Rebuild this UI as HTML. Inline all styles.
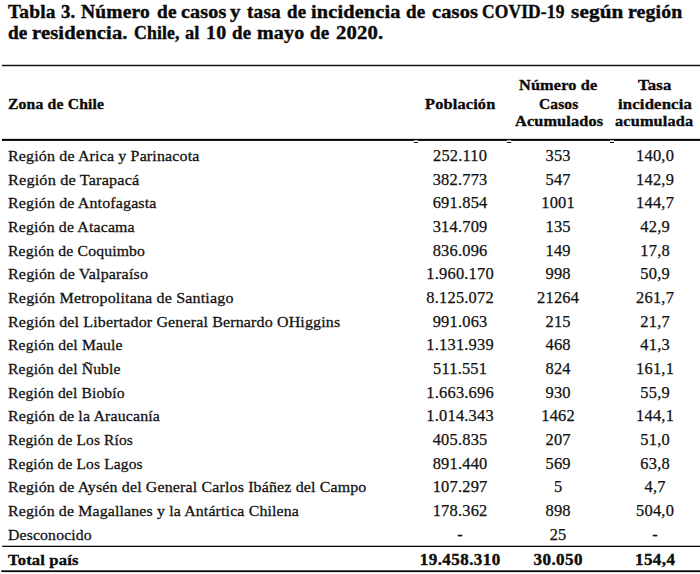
<!DOCTYPE html>
<html><head><meta charset="utf-8"><title>Tabla 3</title>
<style>
html,body{margin:0;padding:0;background:#fff;}
body{width:700px;height:574px;position:relative;overflow:hidden;font-family:"Liberation Serif",serif;color:#111;}
.t{position:absolute;white-space:nowrap;line-height:24px;transform-origin:0 0;letter-spacing:0.15px;}
.la{font-size:15.4px;-webkit-text-stroke:0.27px #111;}
.bo{font-weight:bold;font-size:15.6px;-webkit-text-stroke:0.35px #0c0c0c;color:#0c0c0c;}
.ti{font-weight:bold;font-size:18.7px;-webkit-text-stroke:0.4px #0a0a0a;color:#0a0a0a;}
.hd{font-weight:bold;font-size:15.5px;-webkit-text-stroke:0.35px #0c0c0c;color:#0c0c0c;}
.n{position:absolute;white-space:nowrap;line-height:24px;transform:translateX(-50%) scaleX(1.04);letter-spacing:0.2px;padding-left:0.2px;font-size:15.8px;-webkit-text-stroke:0.25px #111;}
.nb{position:absolute;white-space:nowrap;line-height:24px;transform:translateX(-50%) scaleX(1.085);letter-spacing:0.4px;padding-left:0.4px;font-weight:bold;font-size:15.7px;-webkit-text-stroke:0.35px #0c0c0c;color:#0c0c0c;}
svg{position:absolute;left:0;top:0;}
</style></head><body>
<svg width="700" height="574" viewBox="0 0 700 574">
<rect x="1.9" y="64.75" width="699" height="1.5" fill="#111"/>
<rect x="1.9" y="138.85" width="699" height="2.1" fill="#0a0a0a"/>
<rect x="2.2" y="545.7" width="699" height="1.3" fill="#0a0a0a"/>
<rect x="1.3" y="570.3" width="699" height="1.8" fill="#0a0a0a"/>
<rect x="413.8" y="140.2" width="4.2" height="0.9" fill="#ccc"/>
<rect x="507" y="140.2" width="4.2" height="0.9" fill="#ccc"/>
<rect x="609.8" y="140.2" width="4.2" height="0.9" fill="#ccc"/>
<rect x="413.8" y="142" width="4.2" height="1" fill="#111"/>
<rect x="507" y="142" width="4.2" height="1" fill="#111"/>
<rect x="609.8" y="142" width="4.2" height="1" fill="#111"/>
</svg>

<div class="t ti" style="left:8.30px;top:0.40px;transform:scaleX(1.0391)">Tabla</div>
<div class="t ti" style="left:61.20px;top:0.40px;transform:scaleX(1.0071)">3.</div>
<div class="t ti" style="left:81.10px;top:0.40px;transform:scaleX(1.0439)">Número</div>
<div class="t ti" style="left:156.80px;top:0.40px;transform:scaleX(1.0316)">de</div>
<div class="t ti" style="left:181.00px;top:0.40px;transform:scaleX(1.0762)">casos</div>
<div class="t ti" style="left:229.60px;top:0.40px;transform:scaleX(1.1200)">y</div>
<div class="t ti" style="left:246.50px;top:0.40px;transform:scaleX(1.0333)">tasa</div>
<div class="t ti" style="left:287.40px;top:0.40px;transform:scaleX(1.0105)">de</div>
<div class="t ti" style="left:311.20px;top:0.40px;transform:scaleX(1.0854)">incidencia</div>
<div class="t ti" style="left:405.80px;top:0.40px;transform:scaleX(1.0158)">de</div>
<div class="t ti" style="left:431.50px;top:0.40px;transform:scaleX(1.0929)">casos</div>
<div class="t ti" style="left:481.87px;top:0.40px;transform:scaleX(0.9333)">COVID-19</div>
<div class="t ti" style="left:571.00px;top:0.40px;transform:scaleX(1.1304)">según</div>
<div class="t ti" style="left:628.00px;top:0.40px;transform:scaleX(1.0588)">región</div>
<div class="t ti" style="left:8.30px;top:20.60px;transform:scaleX(1.0263)">de</div>
<div class="t ti" style="left:31.80px;top:20.60px;transform:scaleX(1.1000)">residencia.</div>
<div class="t ti" style="left:133.55px;top:20.60px;transform:scaleX(0.9468)">Chile,</div>
<div class="t ti" style="left:185.20px;top:20.60px;transform:scaleX(0.9867)">al</div>
<div class="t ti" style="left:205.73px;top:20.60px;transform:scaleX(1.0667)">10</div>
<div class="t ti" style="left:232.20px;top:20.60px;transform:scaleX(1.0105)">de</div>
<div class="t ti" style="left:256.80px;top:20.60px;transform:scaleX(1.0727)">mayo</div>
<div class="t ti" style="left:310.30px;top:20.60px;transform:scaleX(1.0158)">de</div>
<div class="t ti" style="left:335.70px;top:20.60px;transform:scaleX(1.1071)">2020.</div>
<div class="t hd" style="left:7.80px;top:92.30px;transform:scaleX(1.0126)">Zona de Chile</div>
<div class="t hd" style="left:425.20px;top:92.30px;transform:scaleX(1.0537)">Población</div>
<div class="t hd" style="left:519.30px;top:72.80px;transform:scaleX(1.0493)">Número de</div>
<div class="t hd" style="left:539.40px;top:92.30px;transform:scaleX(0.9949)">Casos</div>
<div class="t hd" style="left:514.50px;top:108.60px;transform:scaleX(1.0476)">Acumulados</div>
<div class="t hd" style="left:638.30px;top:72.80px;transform:scaleX(1.0774)">Tasa</div>
<div class="t hd" style="left:618.10px;top:92.30px;transform:scaleX(1.0779)">incidencia</div>
<div class="t hd" style="left:615.40px;top:108.60px;transform:scaleX(1.0500)">acumulada</div>
<div class="t la" style="left:8.30px;top:144.00px;transform:scaleX(1.0380)">Región de Arica y Parinacota</div>
<div class="n" style="left:460.3px;top:144.00px">252.110</div>
<div class="n" style="left:558.2px;top:144.00px">353</div>
<div class="n" style="left:655.0px;top:144.00px">140,0</div>
<div class="t la" style="left:8.30px;top:168.00px;transform:scaleX(1.0565)">Región de Tarapacá</div>
<div class="n" style="left:460.3px;top:168.00px">382.773</div>
<div class="n" style="left:558.2px;top:168.00px">547</div>
<div class="n" style="left:655.0px;top:168.00px">142,9</div>
<div class="t la" style="left:8.30px;top:191.00px;transform:scaleX(1.0364)">Región de Antofagasta</div>
<div class="n" style="left:460.3px;top:191.00px">691.854</div>
<div class="n" style="left:558.2px;top:191.00px">1001</div>
<div class="n" style="left:655.0px;top:191.00px">144,7</div>
<div class="t la" style="left:8.30px;top:215.00px;transform:scaleX(1.0301)">Región de Atacama</div>
<div class="n" style="left:460.3px;top:215.00px">314.709</div>
<div class="n" style="left:558.2px;top:215.00px">135</div>
<div class="n" style="left:655.0px;top:215.00px">42,9</div>
<div class="t la" style="left:8.30px;top:239.00px;transform:scaleX(1.0201)">Región de Coquimbo</div>
<div class="n" style="left:460.3px;top:239.00px">836.096</div>
<div class="n" style="left:558.2px;top:239.00px">149</div>
<div class="n" style="left:655.0px;top:239.00px">17,8</div>
<div class="t la" style="left:8.30px;top:262.00px;transform:scaleX(1.0425)">Región de Valparaíso</div>
<div class="n" style="left:460.3px;top:262.00px">1.960.170</div>
<div class="n" style="left:558.2px;top:262.00px">998</div>
<div class="n" style="left:655.0px;top:262.00px">50,9</div>
<div class="t la" style="left:8.30px;top:286.00px;transform:scaleX(1.0426)">Región Metropolitana de Santiago</div>
<div class="n" style="left:460.3px;top:286.00px">8.125.072</div>
<div class="n" style="left:558.2px;top:286.00px">21264</div>
<div class="n" style="left:655.0px;top:286.00px">261,7</div>
<div class="t la" style="left:8.30px;top:310.00px;transform:scaleX(1.0375)">Región del Libertador General Bernardo OHiggins</div>
<div class="n" style="left:460.3px;top:310.00px">991.063</div>
<div class="n" style="left:558.2px;top:310.00px">215</div>
<div class="n" style="left:655.0px;top:310.00px">21,7</div>
<div class="t la" style="left:8.30px;top:333.00px;transform:scaleX(1.0179)">Región del Maule</div>
<div class="n" style="left:460.3px;top:333.00px">1.131.939</div>
<div class="n" style="left:558.2px;top:333.00px">468</div>
<div class="n" style="left:655.0px;top:333.00px">41,3</div>
<div class="t la" style="left:8.30px;top:357.00px;transform:scaleX(1.0153)">Región del Ñuble</div>
<div class="n" style="left:460.3px;top:357.00px">511.551</div>
<div class="n" style="left:558.2px;top:357.00px">824</div>
<div class="n" style="left:655.0px;top:357.00px">161,1</div>
<div class="t la" style="left:8.30px;top:381.00px;transform:scaleX(1.0113)">Región del Biobío</div>
<div class="n" style="left:460.3px;top:381.00px">1.663.696</div>
<div class="n" style="left:558.2px;top:381.00px">930</div>
<div class="n" style="left:655.0px;top:381.00px">55,9</div>
<div class="t la" style="left:8.30px;top:404.00px;transform:scaleX(1.0320)">Región de la Araucanía</div>
<div class="n" style="left:460.3px;top:404.00px">1.014.343</div>
<div class="n" style="left:558.2px;top:404.00px">1462</div>
<div class="n" style="left:655.0px;top:404.00px">144,1</div>
<div class="t la" style="left:8.30px;top:428.00px;transform:scaleX(1.0040)">Región de Los Ríos</div>
<div class="n" style="left:460.3px;top:428.00px">405.835</div>
<div class="n" style="left:558.2px;top:428.00px">207</div>
<div class="n" style="left:655.0px;top:428.00px">51,0</div>
<div class="t la" style="left:8.30px;top:452.00px;transform:scaleX(1.0045)">Región de Los Lagos</div>
<div class="n" style="left:460.3px;top:452.00px">891.440</div>
<div class="n" style="left:558.2px;top:452.00px">569</div>
<div class="n" style="left:655.0px;top:452.00px">63,8</div>
<div class="t la" style="left:8.30px;top:475.00px;transform:scaleX(1.0347)">Región de Aysén del General Carlos Ibáñez del Campo</div>
<div class="n" style="left:460.3px;top:475.00px">107.297</div>
<div class="n" style="left:558.2px;top:475.00px">5</div>
<div class="n" style="left:655.0px;top:475.00px">4,7</div>
<div class="t la" style="left:8.30px;top:499.00px;transform:scaleX(1.0301)">Región de Magallanes y la Antártica Chilena</div>
<div class="n" style="left:460.3px;top:499.00px">178.362</div>
<div class="n" style="left:558.2px;top:499.00px">898</div>
<div class="n" style="left:655.0px;top:499.00px">504,0</div>
<div class="t la" style="left:8.30px;top:523.00px;transform:scaleX(1.0232)">Desconocido</div>
<div class="n" style="left:460.3px;top:523.00px">-</div>
<div class="n" style="left:558.2px;top:523.00px">25</div>
<div class="n" style="left:655.0px;top:523.00px">-</div>
<div class="t bo" style="left:8.00px;top:548.00px;transform:scaleX(1.0636)">Total país</div>
<div class="nb" style="left:460.3px;top:548.00px">19.458.310</div>
<div class="nb" style="left:558.2px;top:548.00px">30.050</div>
<div class="nb" style="left:655.0px;top:548.00px">154,4</div>
</body></html>
